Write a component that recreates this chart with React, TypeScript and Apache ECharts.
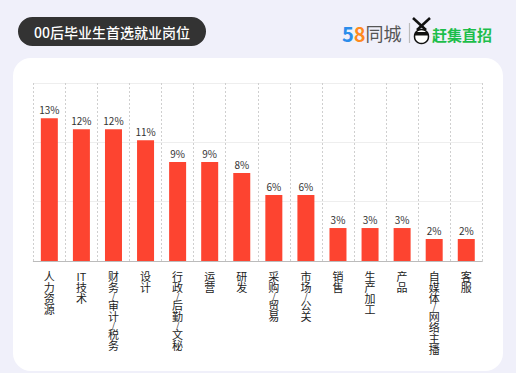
import React, { useEffect, useRef } from 'react';
import * as echarts from 'echarts';

const titleText = '00后毕业生首选就业岗位';
const categories = ['人力资源', 'IT技术', '财务/审计/税务', '设计', '行政/后勤/文秘', '运营', '研发', '采购/贸易', '市场/公关', '销售', '生产加工', '产品', '自媒体/网络主播', '客服'];
const values = [13, 12, 12, 11, 9, 9, 8, 6, 6, 3, 3, 3, 2, 2];
const yMax = 16.2;
const yInterval = 5.4;

const FONT = '"Noto Sans CJK SC", "Noto Sans", sans-serif';

export default function App() {
  const ref = useRef<HTMLDivElement>(null);
  useEffect(() => {
    if (!ref.current) return;
    const chart = echarts.init(ref.current, undefined, { renderer: 'svg' });
    chart.setOption({
      animation: false,
      backgroundColor: '#F0F0FA',
      textStyle: { fontFamily: FONT },
      graphic: [
        { type: 'rect', z: -100, shape: { x: 13, y: 58, width: 490, height: 313, r: 18 }, style: { fill: '#FFFFFF' } },
        { type: 'rect', shape: { x: 18, y: 17, width: 188, height: 29, r: 14.5 }, style: { fill: '#333333' } },
        { type: 'text', x: 112, y: 32, style: { text: titleText, fill: '#FFFFFF', font: `500 14px ${FONT}`, align: 'center', verticalAlign: 'middle' } },
        {
          type: 'text', x: 342, y: 33,
          style: {
            text: '{a|5}{b|8}{c|同城}', verticalAlign: 'middle', align: 'left',
            rich: {
              a: { fill: '#2B8DEB', fontSize: 20, fontWeight: 'bold', fontFamily: FONT },
              b: { fill: '#FF8A1E', fontSize: 20, fontWeight: 'bold', fontFamily: FONT },
              c: { fill: '#555555', fontSize: 18, fontFamily: FONT },
            },
          },
        },
        { type: 'line', shape: { x1: 409.5, y1: 23, x2: 409.5, y2: 43 }, style: { stroke: '#BBBBBB', lineWidth: 1.2 } },
        { type: 'line', shape: { x1: 413, y1: 18, x2: 426, y2: 30 }, style: { stroke: '#111', lineWidth: 2.5 } },
        { type: 'line', shape: { x1: 430, y1: 18, x2: 417, y2: 30 }, style: { stroke: '#111', lineWidth: 2.5 } },
        { type: 'circle', shape: { cx: 421.5, cy: 36.5, r: 7 }, style: { fill: '#FFFFFF', stroke: '#111', lineWidth: 1.5 } },
        { type: 'rect', shape: { x: 415, y: 32, width: 13, height: 3.5 }, style: { fill: '#111' } },
        { type: 'text', x: 432, y: 34, style: { text: '赶集直招', fill: '#1DBE4B', font: `bold 15px ${FONT}`, verticalAlign: 'middle' } },
      ],
      grid: { left: 33.3, right: 33.7, top: 83, bottom: 112 },
      xAxis: {
        type: 'category',
        data: categories,
        axisLine: { lineStyle: { color: '#BBBBBB', width: 1 } },
        axisTick: { alignWithLabel: true, length: 4, lineStyle: { color: '#999' } },
        splitLine: { show: true, lineStyle: { type: [2, 2], color: '#CFCFCF', width: 1 } },
        axisLabel: {
          interval: 0,
          margin: 9,
          formatter: (v: string) =>
            (v.match(/[A-Za-z0-9]+|./g) || [])
              .map((c) => (c === '/' ? '{s|/}' : '{c|' + c + '}'))
              .join('\n'),
          rich: {
            c: { fontSize: 11, lineHeight: 11, color: '#222', fontFamily: FONT },
            s: { fontSize: 8.5, lineHeight: 7, color: '#222', fontFamily: FONT },
          },
        },
      },
      yAxis: {
        type: 'value',
        min: 0,
        max: yMax,
        interval: yInterval,
        axisLabel: { show: false },
        axisLine: { show: false },
        axisTick: { show: false },
        splitLine: { lineStyle: { color: '#EEEEEE', width: 1 } },
      },
      series: [
        {
          type: 'bar',
          data: values,
          barWidth: 17,
          itemStyle: { color: '#FD4430' },
          label: {
            show: true,
            position: 'top',
            distance: 4,
            formatter: '{c}%',
            fontSize: 10,
            color: '#333',
            fontFamily: FONT,
          },
        },
      ],
    });
    return () => chart.dispose();
  }, []);
  return <div ref={ref} style={{ position: 'fixed', left: 0, top: 0, width: 516, height: 373 }} />;
}
